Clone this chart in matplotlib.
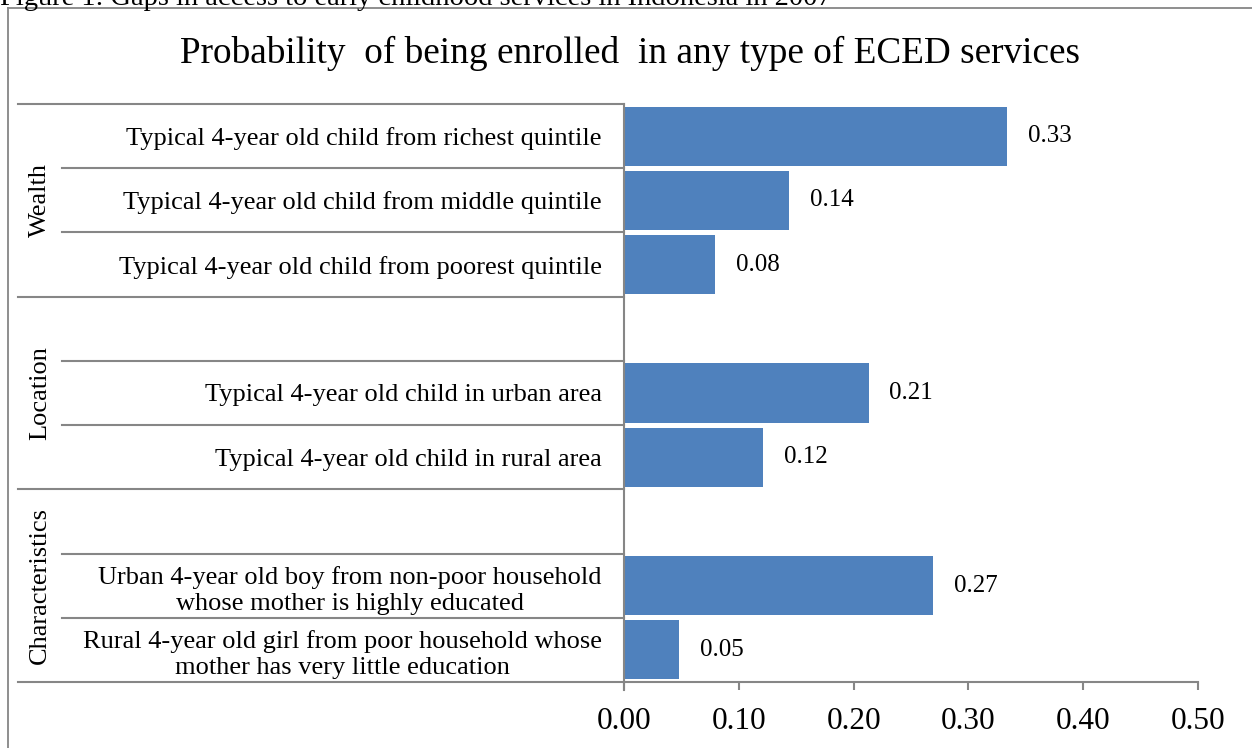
import numpy as np
import matplotlib
matplotlib.use("Agg")
import matplotlib.pyplot as plt
from matplotlib.transforms import blended_transform_factory
from matplotlib.lines import Line2D

plt.rcParams['font.family'] = ['Liberation Serif', 'DejaVu Serif']

# ---- data ----
caption = "Figure 1: Gaps in access to early childhood services in Indonesia in 2007"
title = "Probability  of being enrolled  in any type of ECED services"
groups = ["Wealth", "Location", "Characteristics"]
group_sizes = [3, 3, 3]
categories = [
    "Typical 4-year old child from richest quintile",
    "Typical 4-year old child from middle quintile",
    "Typical 4-year old child from poorest quintile",
    "",
    "Typical 4-year old child in urban area",
    "Typical 4-year old child in rural area",
    "",
    "Urban 4-year old boy from non-poor household\nwhose mother is highly educated",
    "Rural 4-year old girl from poor household whose\nmother has very little education",
]
values = [0.334, 0.144, 0.079, np.nan, 0.213, 0.121, np.nan, 0.269, 0.048]
xticks = [0.0, 0.1, 0.2, 0.3, 0.4, 0.5]

BAR = "#4F81BD"
GRID = "#868686"

W, H = 1252, 748
fig = plt.figure(figsize=(W / 100, H / 100), dpi=100)

# outer chart border (only left and top visible)
fig.add_artist(Line2D([8 / W, 8 / W], [0, 1 - 8 / H], transform=fig.transFigure,
                      color=GRID, lw=1.3))
fig.add_artist(Line2D([8 / W, 1], [1 - 8 / H, 1 - 8 / H], transform=fig.transFigure,
                      color=GRID, lw=1.3))

# caption at top, cut off by the page edge as in the source
fig.text(0.0, 1 - 5 / H, caption, fontsize=20.5, ha='left', va='baseline', color='black')

ax_l, ax_r, ax_t, ax_b = 624, 1198, 104, 682
ax = fig.add_axes([ax_l / W, 1 - ax_b / H, (ax_r - ax_l) / W, (ax_b - ax_t) / H])

n = len(categories)
ypos = np.arange(n)
vals = np.array(values, dtype=float)
mask = ~np.isnan(vals)
ax.barh(ypos[mask], vals[mask], height=0.92, color=BAR, zorder=2)

for y, v in zip(ypos[mask], vals[mask]):
    ax.annotate(f"{v:.2f}", xy=(v, y), xytext=(15, 0), textcoords='offset points',
                ha='left', va='center', fontsize=18)

ax.set_xlim(0, 0.5)
ax.set_ylim(n - 0.5, -0.5)
ax.set_xticks(xticks)
ax.set_xticklabels([f"{t:.2f}" for t in xticks], fontsize=22.5)
ax.set_yticks(ypos)
ax.set_yticklabels(categories, fontsize=19, ha='right', multialignment='center',
                   linespacing=1.25)
ax.tick_params(axis='y', length=0, pad=16)
ax.tick_params(axis='x', length=6, width=1.5, color=GRID, pad=12, direction='out')

for s in ['top', 'right']:
    ax.spines[s].set_visible(False)
for s in ['left', 'bottom']:
    ax.spines[s].set_color(GRID)
    ax.spines[s].set_linewidth(1.5)
ax.spines['left'].set_bounds(n - 0.5 + 0.12, -0.5)

# table lines for the label area
tr = blended_transform_factory(ax.transAxes, ax.transData)
long_x = (18 - ax_l) / (ax_r - ax_l)
short_x = (62 - ax_l) / (ax_r - ax_l)
start = 0
boundaries = [-0.5]
for g, size in zip(groups, group_sizes):
    for k in range(1, size):
        y = start + k - 0.5
        ax.add_line(Line2D([short_x, 0], [y, y], transform=tr, color=GRID, lw=1.5,
                           clip_on=False))
    mid = start + (size - 1) / 2
    ax.text((40 - ax_l) / (ax_r - ax_l), mid, g, transform=tr, rotation=90,
            ha='center', va='center', fontsize=19)
    start += size
    boundaries.append(start - 0.5)
for y in boundaries:
    ax.add_line(Line2D([long_x, 0], [y, y], transform=tr, color=GRID, lw=1.5,
                       clip_on=False))

fig.text(630 / W, 1 - 53 / H, title, fontsize=26.8, ha='center', va='center')

fig.savefig("out.png", dpi=100)
